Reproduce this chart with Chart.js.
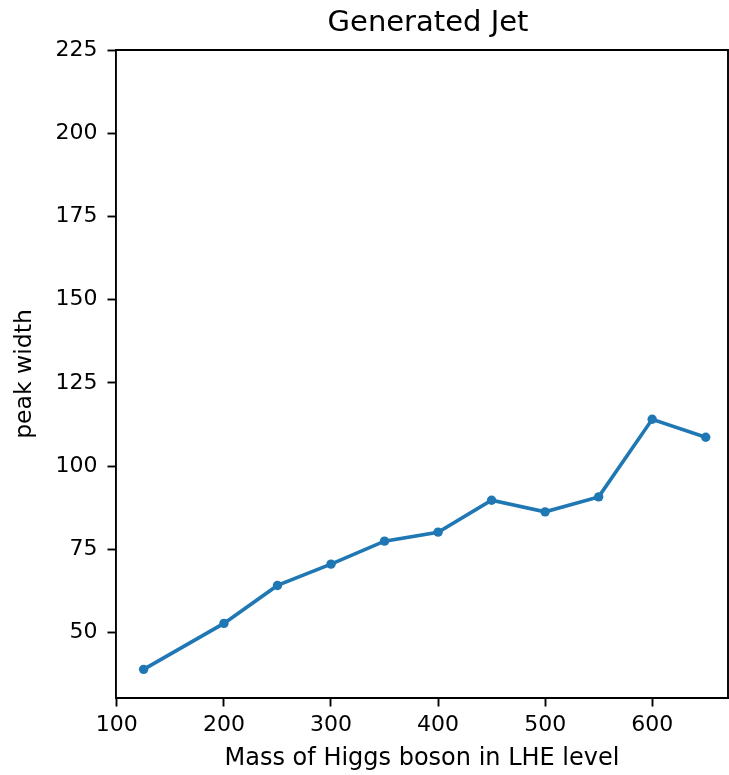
<!DOCTYPE html>
<html>
<head>
<meta charset="utf-8">
<script src="https://cdn.jsdelivr.net/npm/chart.js@4.4.1/dist/chart.umd.min.js"></script>
<style>
html,body{margin:0;padding:0;background:#fff;}
#wrap{width:729px;height:775px;position:relative;}
</style>
</head>
<body>
<div id="wrap"><canvas id="c" width="729" height="775"></canvas></div>
<script>
const masses = [125, 200, 250, 300, 350, 400, 450, 500, 550, 600, 650];
const peakWidth = [39.0, 52.8, 64.2, 70.6, 77.5, 80.2, 89.8, 86.3, 90.8, 114.1, 108.7];
const xTicks = [100, 200, 300, 400, 500, 600];
const yTicks = [50, 75, 100, 125, 150, 175, 200, 225];
const titleText = "Generated Jet";
const xLabel = "Mass of Higgs boson in LHE level";
const yLabel = "peak width";

const FONT = "'DejaVu Sans', sans-serif";

const framePlugin = {
  id: 'frame',
  afterDraw(chart) {
    const {ctx, chartArea: a} = chart;
    ctx.save();
    ctx.strokeStyle = '#000';
    ctx.lineWidth = 1.9;
    ctx.beginPath();
    ctx.moveTo(a.left, a.top);
    ctx.lineTo(a.right, a.top);
    ctx.lineTo(a.right, a.bottom);
    ctx.stroke();
    ctx.fillStyle = '#000';
    ctx.font = "29px " + FONT;
    ctx.textAlign = 'center';
    ctx.textBaseline = 'alphabetic';
    ctx.fillText(titleText, 428, 31);
    ctx.restore();
  }
};

new Chart(document.getElementById('c'), {
  type: 'line',
  data: {
    datasets: [{
      data: masses.map((m, i) => ({x: m, y: peakWidth[i]})),
      borderColor: '#1f77b4',
      backgroundColor: '#1f77b4',
      borderWidth: 3.6,
      pointRadius: 4.7,
      pointBorderWidth: 0,
      pointHoverRadius: 4.7,
      tension: 0,
      fill: false
    }]
  },
  options: {
    responsive: false,
    animation: false,
    events: [],
    layout: {autoPadding: false, padding: {left: 0, right: 1, top: 50, bottom: 0}},
    plugins: {legend: {display: false}, tooltip: {enabled: false}, title: {display: false}},
    scales: {
      x: {
        type: 'linear',
        min: 99.2,
        max: 670.8,
        afterBuildTicks: s => { s.ticks = xTicks.map(v => ({value: v})); },
        afterFit: s => { s.height = 77; s.paddingLeft = 0; s.paddingRight = 0; },
        grid: {drawOnChartArea: false, drawTicks: true, tickLength: 8.5, tickColor: '#000', tickWidth: 1.9},
        border: {display: true, color: '#000', width: 1.9},
        ticks: {color: '#000', font: {family: FONT, size: 22}, padding: 6, maxRotation: 0, autoSkip: false},
        title: {display: true, text: xLabel, color: '#000', font: {family: FONT, size: 24}, padding: {top: 0, bottom: 2}}
      },
      y: {
        type: 'linear',
        min: 30.4,
        max: 225,
        afterBuildTicks: s => { s.ticks = yTicks.map(v => ({value: v})); },
        afterFit: s => { s.width = 116; s.paddingTop = 0; s.paddingBottom = 0; },
        grid: {drawOnChartArea: false, drawTicks: true, tickLength: 8.5, tickColor: '#000', tickWidth: 1.9},
        border: {display: true, color: '#000', width: 1.9},
        ticks: {color: '#000', font: {family: FONT, size: 22}, padding: 10, autoSkip: false},
        title: {display: true, text: yLabel, color: '#000', font: {family: FONT, size: 23.5}, padding: {top: 11, bottom: 0}}
      }
    }
  },
  plugins: [framePlugin]
});
</script>
</body>
</html>
